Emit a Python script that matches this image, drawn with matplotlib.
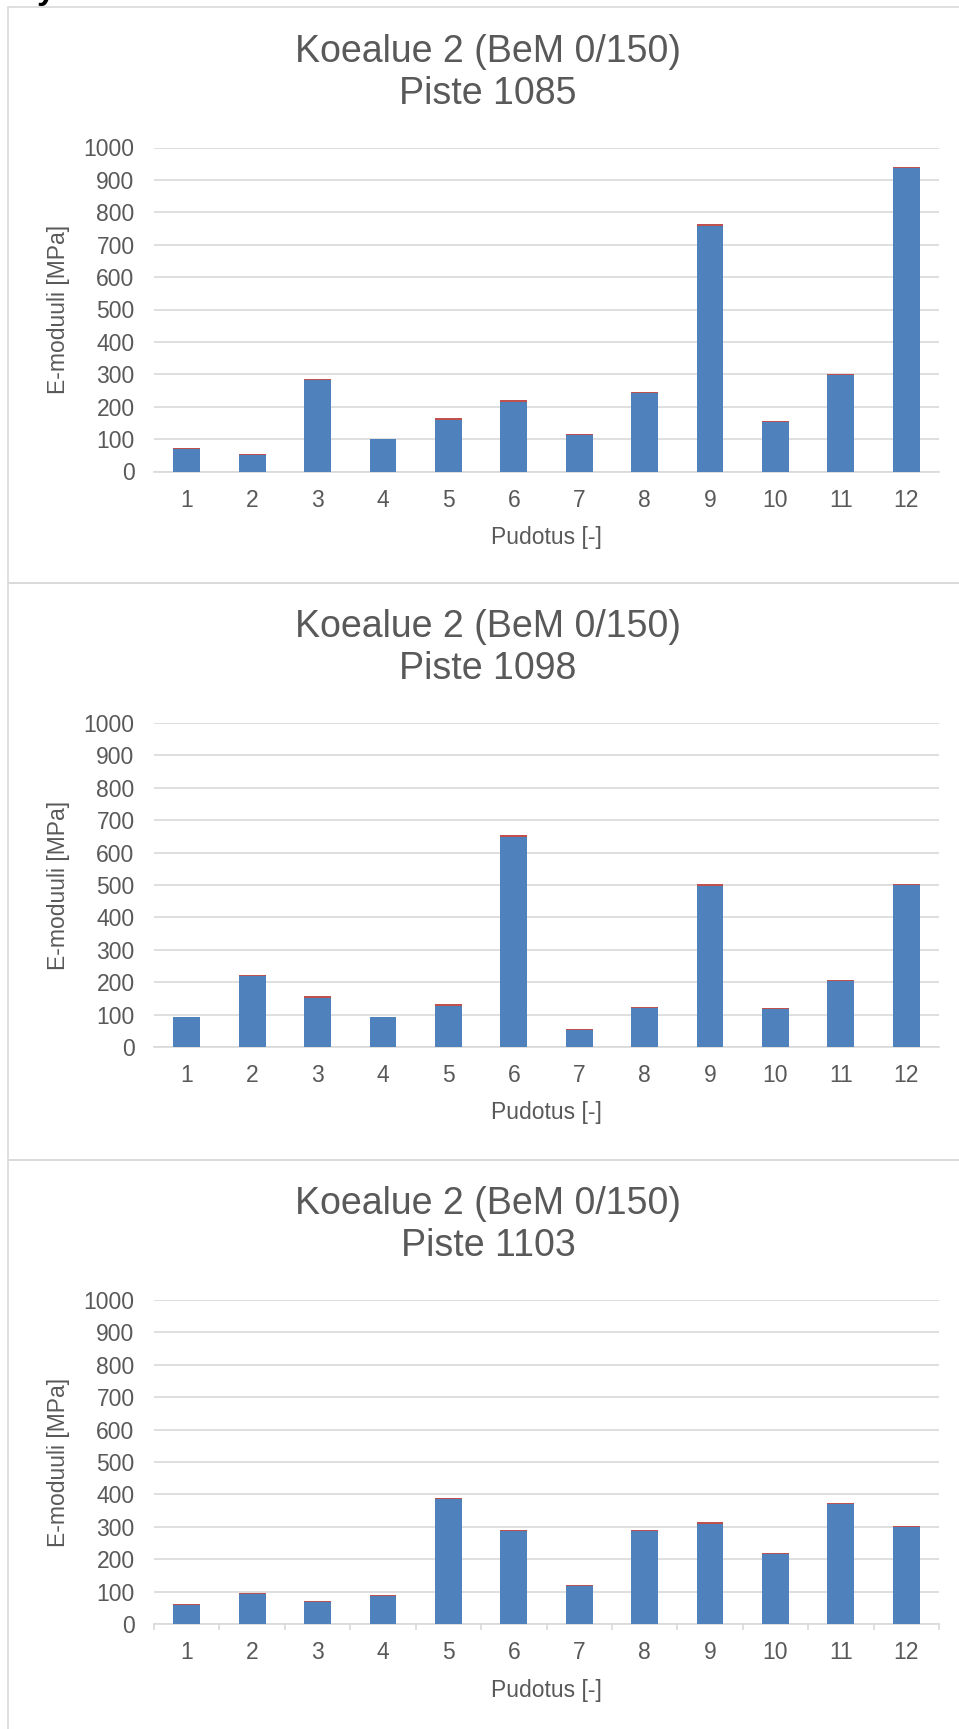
import numpy as np
import matplotlib.pyplot as plt
from matplotlib.patches import Rectangle

plt.rcParams['font.family'] = ['Liberation Sans', 'DejaVu Sans']

# Pudotus 1..12, E-moduuli [MPa]: blue = main series, red = thin top layer
drops = [str(i) for i in range(1, 13)]
titles = ['Koealue 2 (BeM 0/150)'] * 3
points = ['Piste 1085', 'Piste 1098', 'Piste 1103']

p1085_blue = [69, 51, 281, 99, 160, 216, 114, 242, 759, 153, 299, 937]
p1085_red = [3, 3, 5, 2, 4, 6, 2, 4, 5, 3, 3, 4]
p1098_blue = [92, 218, 152, 92, 127, 649, 52, 119, 497, 117, 204, 500]
p1098_red = [2, 4, 4, 2, 5, 5, 3, 4, 5, 2, 2, 4]
p1103_blue = [59, 93, 67, 87, 386, 287, 116, 287, 310, 216, 370, 299]
p1103_red = [3, 3, 4, 2, 3, 3, 3, 3, 5, 3, 4, 4]

yticks = list(range(0, 1001, 100))

BLUE = '#4F81BD'
RED = '#C0504D'
TXT = '#595959'
GRID = '#D9D9D9'

W, H = 959, 1729
fig = plt.figure(figsize=(W / 100, H / 100), dpi=100)


def fx(px):
    return px / W


def fy(py):
    return 1 - py / H


# cut-off heading letter above the first chart
fig.text(fx(37), fy(-1), 'y', fontsize=24, fontweight='bold', color='black',
         va='baseline', ha='left')

panel_tops = [7.5, 583, 1160]
panel_bottoms = [583, 1160, 1740]
series = [(p1085_blue, p1085_red), (p1098_blue, p1098_red), (p1103_blue, p1103_red)]

for k, top in enumerate(panel_tops):
    # panel frame
    bot = panel_bottoms[k]
    fig.add_artist(Rectangle((fx(8), fy(bot)), fx(968) - fx(8), (bot - top) / H,
                             transform=fig.transFigure, fill=False,
                             edgecolor=GRID, lw=1.2))

    ax = fig.add_axes([fx(154), fy(top + 140 + 324), fx(939) - fx(154), 324 / H])
    blue, red = series[k]
    x = np.arange(len(drops))
    ax.bar(x, blue, width=0.41, color=BLUE, zorder=3)
    ax.bar(x, red, width=0.41, bottom=blue, color=RED, zorder=3)

    ax.set_xlim(-0.5, len(drops) - 0.5)
    ax.set_ylim(0, 1000)
    ax.set_yticks(yticks)
    ax.set_xticks(x)
    ax.set_xticklabels(drops)
    ax.grid(axis='y', color=GRID, lw=1.2, zorder=0)
    for s in ['top', 'right', 'left']:
        ax.spines[s].set_visible(False)
    ax.spines['bottom'].set_color(GRID)
    ax.spines['bottom'].set_linewidth(1.2)
    ax.tick_params(axis='y', length=0, pad=14, labelsize=16.5, labelcolor=TXT)
    ax.tick_params(axis='x', which='major', length=0, pad=12.5, labelsize=16.5, labelcolor=TXT)
    if k == 2:
        ax.set_xticks(np.arange(-0.5, len(drops)), minor=True)
        ax.tick_params(axis='x', which='minor', length=4.5, width=1.2, color=GRID)

    fig.text(fx(488), fy(top + 44), titles[k], fontsize=27, color=TXT,
             ha='center', va='center')
    fig.text(fx(488), fy(top + 86), points[k], fontsize=27, color=TXT,
             ha='center', va='center')
    fig.text(fx(546.5), fy(top + 530), 'Pudotus [-]', fontsize=16.5, color=TXT,
             ha='center', va='center')
    fig.text(fx(58), fy(top + 140 + 162), 'E-moduuli [MPa]', fontsize=16.5,
             color=TXT, ha='center', va='center', rotation=90)

fig.savefig('out.png', dpi=100)
